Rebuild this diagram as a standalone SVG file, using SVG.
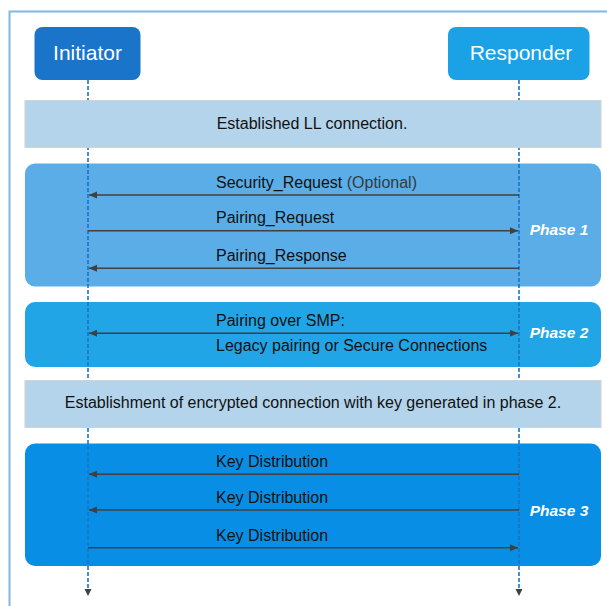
<svg xmlns="http://www.w3.org/2000/svg" width="607" height="606" viewBox="0 0 607 606">
<style>
  text { font-family: "Liberation Sans", Arial, sans-serif; }
  .hdr { font-size: 21px; fill: #ffffff; text-anchor: middle; }
  .msg { font-size: 16px; fill: #111111; }
  .opt { fill: #333a40; }
  .phase { font-size: 15.5px; font-weight: bold; font-style: italic; fill: #ffffff; text-anchor: middle; }
  .band { fill: #b3d4eb; stroke: #d2d2d2; stroke-width: 1; }
  .life { stroke: #1a73c8; stroke-width: 1.6; stroke-dasharray: 4 2; fill: none; }
  .arr { stroke: #404040; stroke-width: 1.5; fill: none; }
</style>
<defs>
  <marker id="ah" markerUnits="userSpaceOnUse" markerWidth="9" markerHeight="8" refX="8" refY="3.5" orient="auto-start-reverse">
    <path d="M0,0 L8,3.5 L0,7 z" fill="#404040"/>
  </marker>
</defs>
<rect width="607" height="606" fill="#ffffff"/>
<path d="M9.5,610 L9.5,11.5 L612,11.5" fill="none" stroke="#7fb8e3" stroke-width="2"/>

<g id="phase1">
  <rect x="25" y="163.5" width="576" height="123" rx="10" fill="#5aade6"/>
  <text class="phase" x="559" y="235">Phase 1</text>
</g>
<g id="phase2">
  <rect x="25" y="302" width="576" height="65" rx="10" fill="#22a5e6"/>
  <text class="phase" x="559" y="337.5">Phase 2</text>
</g>
<g id="phase3">
  <rect x="25" y="443.5" width="576" height="122.5" rx="10" fill="#088ee4"/>
  <text class="phase" x="559" y="516">Phase 3</text>
</g>

<g id="lifelines">
  <line class="life" x1="88" y1="80" x2="88" y2="590"/>
  <line class="life" x1="519" y1="80" x2="519" y2="590"/>
  <path d="M84.5,589 L91.5,589 L88,596 z" fill="#404040"/>
  <path d="M515.5,589 L522.5,589 L519,596 z" fill="#404040"/>
</g>

<g id="initiator">
  <rect x="34.5" y="27" width="106" height="53" rx="8" fill="#1a74ca"/>
  <text class="hdr" x="87.5" y="59.5">Initiator</text>
</g>
<g id="responder">
  <rect x="448" y="27" width="141.5" height="53" rx="8" fill="#1aa1e6"/>
  <text class="hdr" x="521" y="59.5">Responder</text>
</g>

<g id="band-ll">
  <rect class="band" x="25" y="100.5" width="576" height="47"/>
  <text class="msg" x="312" y="129" text-anchor="middle">Established LL connection.</text>
</g>
<g id="band-enc">
  <rect class="band" x="25" y="380.5" width="576" height="47"/>
  <text class="msg" x="313" y="408" text-anchor="middle">Establishment of encrypted connection with key generated in phase 2.</text>
</g>

<g id="connectors">
  <line class="arr" x1="519" y1="195" x2="89" y2="195" marker-end="url(#ah)"/>
  <line class="arr" x1="88" y1="230.7" x2="518" y2="230.7" marker-end="url(#ah)"/>
  <line class="arr" x1="519" y1="268.3" x2="89" y2="268.3" marker-end="url(#ah)"/>
  <line class="arr" x1="89" y1="333.3" x2="518" y2="333.3" marker-start="url(#ah)" marker-end="url(#ah)"/>
  <line class="arr" x1="519" y1="474.3" x2="89" y2="474.3" marker-end="url(#ah)"/>
  <line class="arr" x1="519" y1="510" x2="89" y2="510" marker-end="url(#ah)"/>
  <line class="arr" x1="88" y1="547.7" x2="518" y2="547.7" marker-end="url(#ah)"/>
</g>

<g id="labels">
  <text class="msg" x="216" y="188">Security_Request <tspan class="opt">(Optional)</tspan></text>
  <text class="msg" x="216" y="223.3">Pairing_Request</text>
  <text class="msg" x="216" y="261">Pairing_Response</text>
  <text class="msg" x="216" y="326">Pairing over SMP:</text>
  <text class="msg" x="216" y="351">Legacy pairing or Secure Connections</text>
  <text class="msg" x="216" y="467.3">Key Distribution</text>
  <text class="msg" x="216" y="503.3">Key Distribution</text>
  <text class="msg" x="216" y="540.7">Key Distribution</text>
</g>
</svg>
